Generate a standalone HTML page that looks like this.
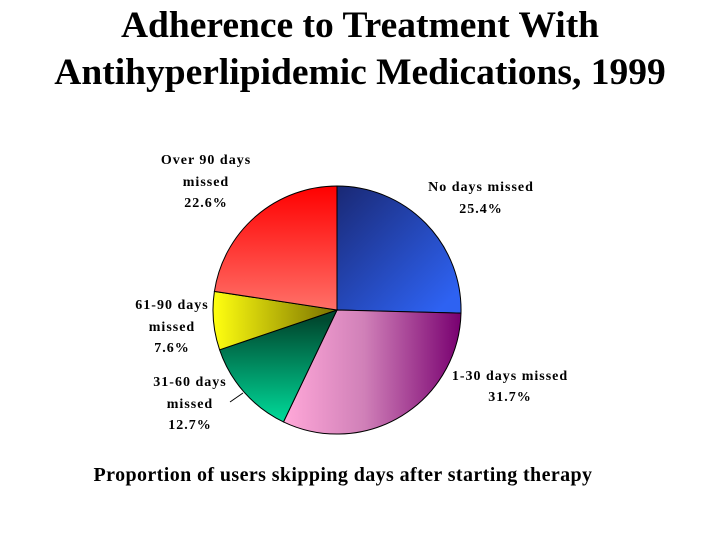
<!DOCTYPE html>
<html><head><meta charset="utf-8"><style>
html,body{margin:0;padding:0;background:#fff;}
svg{display:block;}
text{font-family:"Liberation Serif",serif;font-weight:bold;fill:#000;}
</style></head><body>
<svg width="720" height="540" viewBox="0 0 720 540" xmlns="http://www.w3.org/2000/svg">
<defs>
<linearGradient id="gb" gradientUnits="userSpaceOnUse" x1="340" y1="190" x2="450" y2="300"><stop offset="0" stop-color="#1a2a78"/><stop offset="1" stop-color="#2e62f2"/></linearGradient>
<linearGradient id="gp" gradientUnits="userSpaceOnUse" x1="285" y1="0" x2="461" y2="0"><stop offset="0" stop-color="#ffa8d8"/><stop offset="0.45" stop-color="#d080b8"/><stop offset="1" stop-color="#780070"/></linearGradient>
<linearGradient id="gg" gradientUnits="userSpaceOnUse" x1="0" y1="320" x2="0" y2="420"><stop offset="0" stop-color="#004a30"/><stop offset="1" stop-color="#00d898"/></linearGradient>
<linearGradient id="gy" gradientUnits="userSpaceOnUse" x1="214" y1="0" x2="330" y2="0"><stop offset="0" stop-color="#ffff10"/><stop offset="1" stop-color="#807800"/></linearGradient>
<linearGradient id="gr" gradientUnits="userSpaceOnUse" x1="0" y1="186" x2="0" y2="310"><stop offset="0" stop-color="#ff0000"/><stop offset="1" stop-color="#ff7068"/></linearGradient>
</defs>
<text x="360" y="37" font-size="37.5" text-anchor="middle">Adherence to Treatment With</text>
<text x="360" y="84" font-size="37.5" text-anchor="middle">Antihyperlipidemic Medications, 1999</text>
<g stroke="#000" stroke-width="1">
<path d="M337,310 L337,186 A124,124 0 0 1 461,313.1 Z" fill="url(#gb)"/>
<path d="M337,310 L461,313.1 A124,124 0 0 1 283.5,421.9 Z" fill="url(#gp)"/>
<path d="M337,310 L283.5,421.9 A124,124 0 0 1 219.6,349.8 Z" fill="url(#gg)"/>
<path d="M337,310 L219.6,349.8 A124,124 0 0 1 214.4,291.4 Z" fill="url(#gy)"/>
<path d="M337,310 L214.4,291.4 A124,124 0 0 1 337,186 Z" fill="url(#gr)"/>
<line x1="230" y1="402" x2="243" y2="393"/>
</g>
<g font-size="14" text-anchor="middle" letter-spacing="1">
<text x="206" y="164">Over 90 days</text>
<text x="206" y="186">missed</text>
<text x="206" y="207">22.6%</text>
<text x="481" y="191">No days missed</text>
<text x="481" y="213">25.4%</text>
<text x="172" y="309">61-90 days</text>
<text x="172" y="331">missed</text>
<text x="172" y="352">7.6%</text>
<text x="190" y="386">31-60 days</text>
<text x="190" y="408">missed</text>
<text x="190" y="429">12.7%</text>
<text x="510" y="380">1-30 days missed</text>
<text x="510" y="401">31.7%</text>
</g>
<text x="343" y="481" font-size="20" letter-spacing="0.4" text-anchor="middle">Proportion of users skipping days after starting therapy</text>
</svg>
</body></html>
